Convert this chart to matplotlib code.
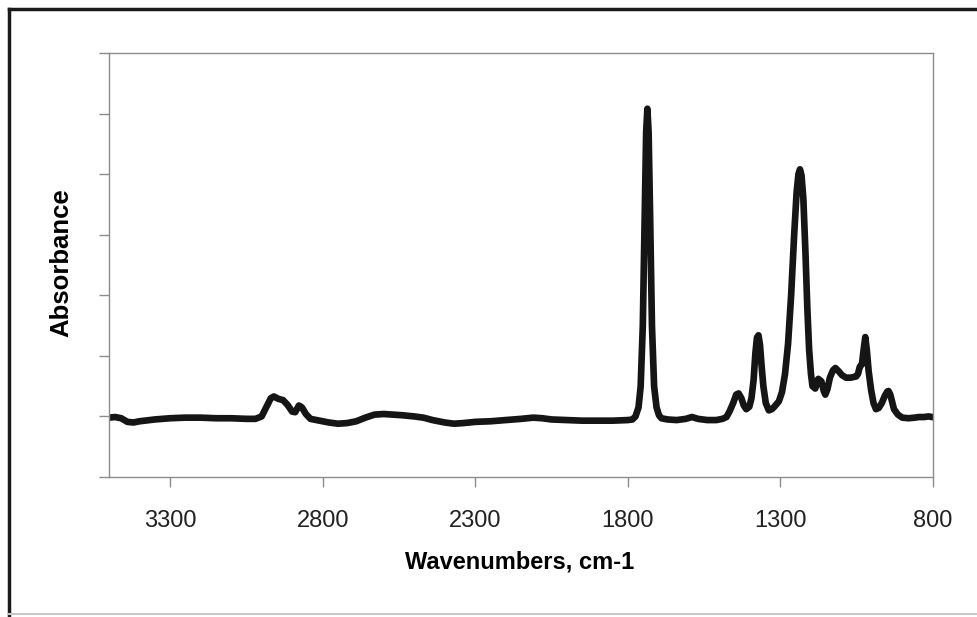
import numpy as np
import matplotlib.pyplot as plt
from matplotlib.lines import Line2D

plt.rcParams['font.family'] = ['Liberation Sans', 'DejaVu Sans']

# IR spectrum (wavenumber, absorbance)
wavenumber = [3500, 3480, 3460, 3440, 3420, 3400, 3350, 3300, 3250, 3200, 3150, 3100,
              3050, 3020, 3000, 2985, 2970, 2960, 2945, 2930, 2915, 2900, 2890, 2878,
              2868, 2855, 2840, 2810, 2780, 2750, 2720, 2690, 2660, 2630, 2600, 2570,
              2540, 2500, 2470, 2440, 2400, 2370, 2340, 2300, 2250, 2200, 2150, 2110,
              2080, 2050, 2000, 1950, 1900, 1850, 1800, 1785, 1775, 1765, 1758, 1751,
              1745, 1740, 1736, 1732, 1727, 1721, 1714, 1706, 1698, 1690, 1670, 1640,
              1610, 1590, 1570, 1540, 1510, 1490, 1477, 1467, 1455, 1445, 1437, 1428,
              1420, 1412, 1402, 1395, 1388, 1382, 1377, 1372, 1367, 1362, 1356, 1348,
              1338, 1328, 1320, 1305, 1295, 1285, 1275, 1265, 1255, 1247, 1241, 1236,
              1231, 1225, 1218, 1212, 1206, 1200, 1195, 1186, 1176, 1166, 1158, 1153,
              1146, 1138, 1128, 1120, 1110, 1098, 1085, 1070, 1052, 1046, 1040, 1033,
              1027, 1022, 1017, 1011, 1003, 995, 987, 978, 968, 958, 950, 946, 940,
              934, 928, 915, 901, 880, 860, 846, 830, 815, 803, 800]
absorbance = [-0.002, -0.001, -0.003, -0.009, -0.010, -0.008, -0.005, -0.003, -0.002, -0.002,
              -0.003, -0.003, -0.004, -0.004, 0.000, 0.015, 0.030, 0.033, 0.029, 0.027,
              0.019, 0.008, 0.007, 0.018, 0.015, 0.004, -0.004, -0.007, -0.010, -0.012,
              -0.011, -0.008, -0.002, 0.003, 0.004, 0.003, 0.002, 0.000, -0.002, -0.006,
              -0.010, -0.012, -0.011, -0.009, -0.008, -0.006, -0.004, -0.002, -0.003, -0.005,
              -0.006, -0.007, -0.007, -0.007, -0.006, -0.005, 0.000, 0.015, 0.050, 0.150,
              0.330, 0.470, 0.508, 0.470, 0.330, 0.150, 0.050, 0.015, 0.002, -0.003,
              -0.005, -0.006, -0.004, -0.001, -0.004, -0.006, -0.006, -0.004, -0.001, 0.008,
              0.022, 0.036, 0.038, 0.030, 0.018, 0.012, 0.016, 0.030, 0.060, 0.105,
              0.130, 0.134, 0.118, 0.085, 0.050, 0.022, 0.010, 0.012, 0.016, 0.025,
              0.040, 0.070, 0.120, 0.200, 0.300, 0.370, 0.400, 0.408, 0.398, 0.360,
              0.270, 0.180, 0.110, 0.070, 0.050, 0.046, 0.062, 0.058, 0.042, 0.036,
              0.045, 0.064, 0.076, 0.080, 0.075, 0.068, 0.064, 0.064, 0.066, 0.070,
              0.082, 0.086, 0.112, 0.131, 0.110, 0.075, 0.044, 0.022, 0.012, 0.014,
              0.022, 0.034, 0.041, 0.042, 0.036, 0.024, 0.012, 0.003, -0.002, -0.003,
              -0.002, -0.001, -0.001, 0.000, -0.001, -0.001]

x_ticks = [3300, 2800, 2300, 1800, 1300, 800]
y_ticks = [-0.1, 0.0, 0.1, 0.2, 0.3, 0.4, 0.5, 0.6]

fig = plt.figure(figsize=(9.77, 6.17), dpi=100)
ax = fig.add_axes([0.1116, 0.2269, 0.8434, 0.6872])

ax.plot(wavenumber, absorbance, color='#151515', lw=4.8,
        solid_joinstyle='round', solid_capstyle='round')

ax.set_xlim(3500, 800)
ax.set_ylim(-0.1, 0.6)
ax.set_xticks(x_ticks)
ax.set_xticklabels([str(t) for t in x_ticks], fontsize=17, color='#222222')
ax.set_yticks(y_ticks)
ax.set_yticklabels([])
ax.tick_params(axis='both', direction='out', length=7, width=1, color='#8c8c8c')
ax.tick_params(axis='x', pad=17)
for s in ax.spines.values():
    s.set_color('#8c8c8c')
    s.set_linewidth(1)

fig.text(520 / 977, 1 - 562 / 617, 'Wavenumbers, cm-1', fontsize=17,
         fontweight='bold', ha='center', va='center')
fig.text(61 / 977, 1 - 263 / 617, 'Absorbance', fontsize=18.5, fontweight='bold',
         rotation=90, ha='center', va='center')

# outer frame of the scanned chart
fig.add_artist(Line2D([9 / 977, 1.0], [1 - 9 / 617, 1 - 9 / 617],
                      transform=fig.transFigure, color='#1a1a1a', lw=2.5))
fig.add_artist(Line2D([9 / 977, 9 / 977], [1 - 9 / 617, 0.0],
                      transform=fig.transFigure, color='#1a1a1a', lw=2.5))
fig.add_artist(Line2D([9 / 977, 1.0], [3 / 617, 3 / 617],
                      transform=fig.transFigure, color='#c8c8c8', lw=1.5))

plt.savefig('out.png', dpi=100)
